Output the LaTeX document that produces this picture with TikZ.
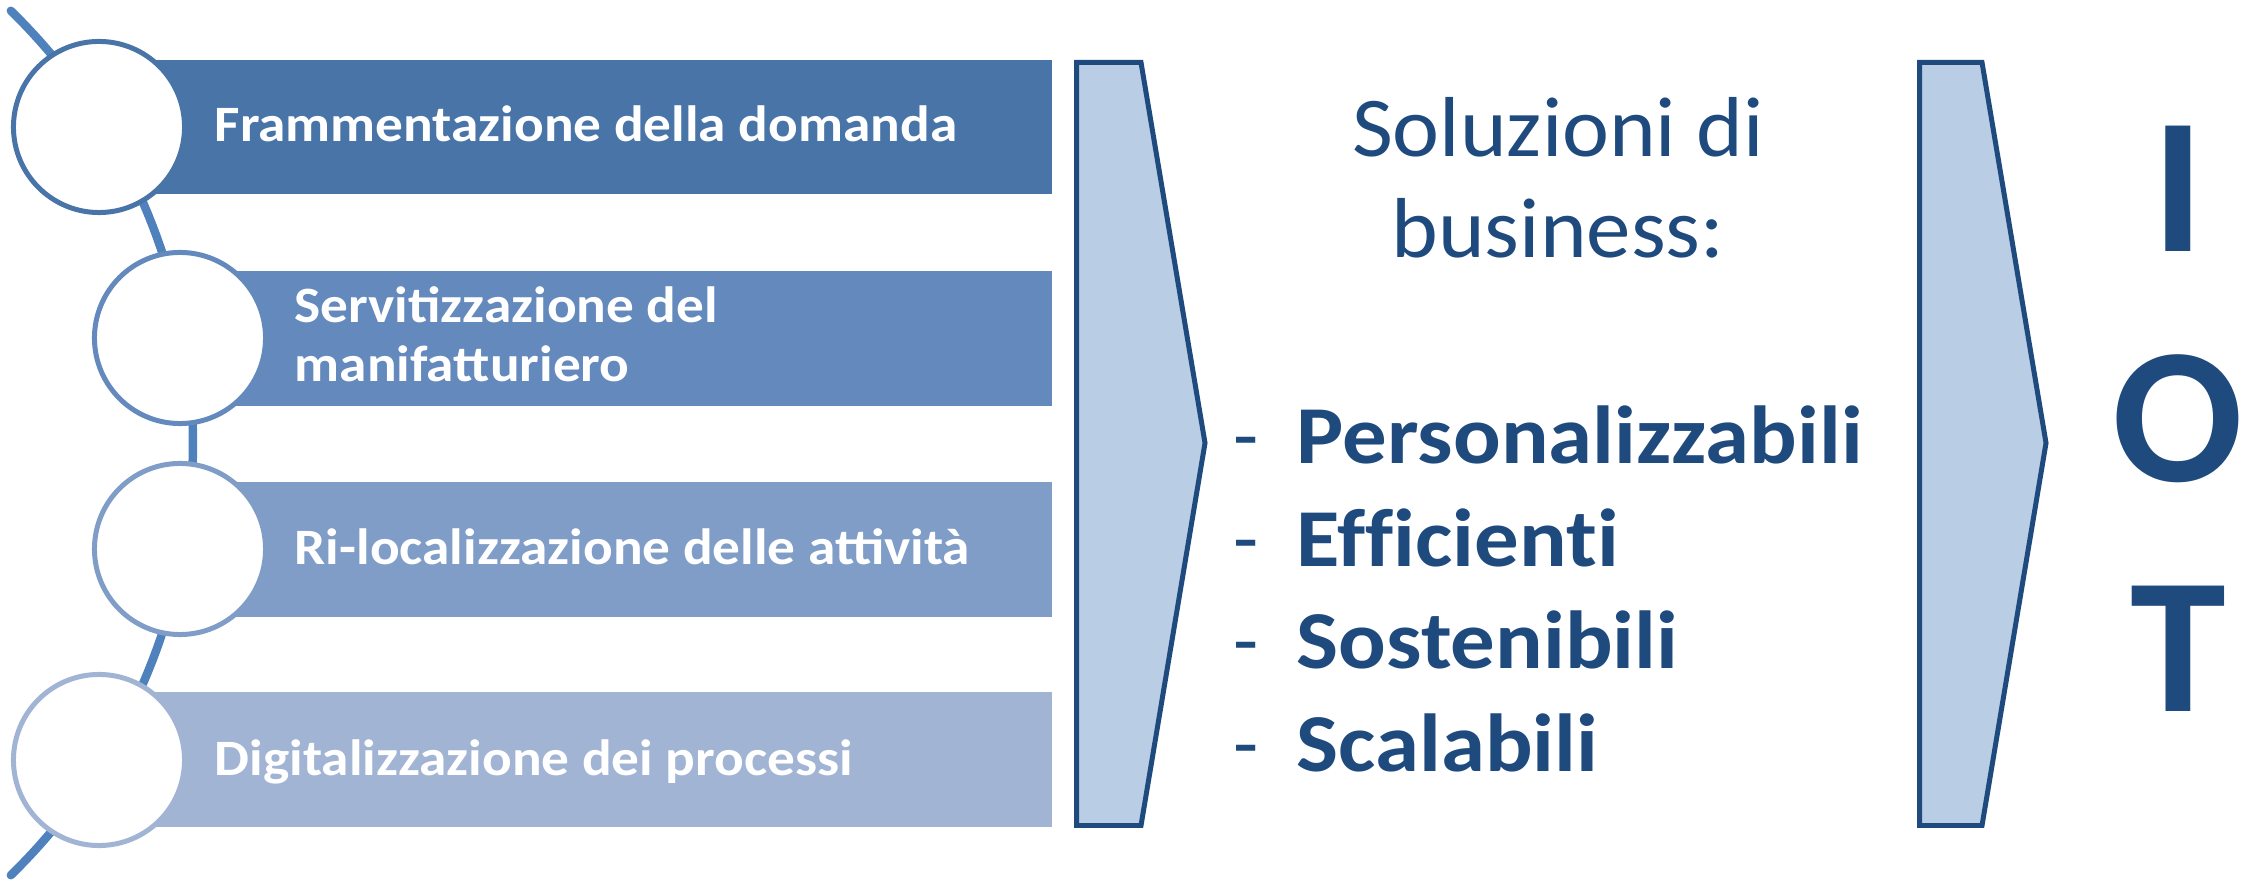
\documentclass[tikz,border=0pt]{standalone}
\usepackage{fontspec}
\setmainfont{Carlito}
\newfontfamily\bandfont[FakeStretch=1.085]{Carlito}
\newfontfamily\itemfont[FakeStretch=1.08, Ligatures=NoCommon]{Carlito}
\newfontfamily\headfont[FakeStretch=1.045]{Carlito}
\definecolor{barA}{HTML}{4874A8}
\definecolor{barB}{HTML}{6389BD}
\definecolor{barC}{HTML}{809DC8}
\definecolor{barD}{HTML}{A1B4D4}
\definecolor{spinecol}{HTML}{4F81BD}
\definecolor{navy}{HTML}{1F4A7E}
\definecolor{chevfill}{HTML}{B9CDE4}
\begin{document}
\begin{tikzpicture}[x=0.01cm,y=-0.01cm,
  ring/.style={circle, draw=#1, fill=white, line width=1.42pt,
    minimum size=1.71cm, inner sep=0pt},
  bartext/.style={anchor=base west, inner sep=0pt, text=white,
    font=\bandfont\fontsize{14.5pt}{16.8pt}\selectfont\bfseries},
  chev/.style={draw=navy, fill=chevfill, line width=1.42pt, line join=miter},
  spine/.style={draw=spinecol, line width=2.4pt, line cap=round},
  headtext/.style={anchor=base, inner sep=0pt, text=navy,
    font=\headfont\fontsize{24.2pt}{29pt}\selectfont},
  dashtext/.style={anchor=base west, inner sep=0pt, text=navy,
    font=\fontsize{23.4pt}{28pt}\selectfont},
  itemtext/.style={anchor=base west, inner sep=0pt, text=navy,
    font=\itemfont\fontsize{23.4pt}{28pt}\selectfont\bfseries},
  bigletter/.style={anchor=base, inner sep=0pt, text=navy,
    font=\fontsize{55pt}{60pt}\selectfont\bfseries},
]
\useasboundingbox (0,0) rectangle (2249,880);

% curved backbone behind the circles
\draw[spine] plot[domain=-45.7:45.7, samples=90]
  ({-411+604*cos(\x)},{443+604*sin(\x)});

% coloured bands
\fill[barA] (99,60)   rectangle (1052,194);
\fill[barB] (180,271) rectangle (1052,406);
\fill[barC] (180,482) rectangle (1052,617);
\fill[barD] (99,692)  rectangle (1052,827);

% circles on the backbone
\node[ring=barA] (c1) at (99,127) {};
\node[ring=barB] (c2) at (180,338) {};
\node[ring=barC] (c3) at (180,549) {};
\node[ring=barD] (c4) at (99,760) {};

% band labels
\node[bartext] (t1)  at (214,142) {Frammentazione della domanda};
\node[bartext] (t2a) at (294,323) {Servitizzazione del};
\node[bartext] (t2b) at (294,382) {manifatturiero};
\node[bartext] (t3)  at (294,565) {Ri-localizzazione delle attività};
\node[bartext] (t4)  at (214,775) {Digitalizzazione dei processi};

% chevrons
\draw[chev] (1076.5,62.5) -- (1141,62.5) -- (1205,443) -- (1141,825.5)
  -- (1076.5,825.5) -- cycle;
\draw[chev] (1919.5,62.5) -- (1982,62.5) -- (2046,443) -- (1982,825.5)
  -- (1919.5,825.5) -- cycle;

% central heading
\node[headtext] (h1) at (1558,157) {Soluzioni di};
\node[headtext] (h2) at (1558,258) {business:};

% list of qualities
\node[dashtext] (d1) at (1233,464) {-};
\node[dashtext] (d2) at (1233,567) {-};
\node[dashtext] (d3) at (1233,669) {-};
\node[dashtext] (d4) at (1233,772) {-};
\node[itemtext] (i1) at (1296,464) {Personalizzabili};
\node[itemtext] (i2) at (1296,567) {Efficienti};
\node[itemtext] (i3) at (1296,669) {Sostenibili};
\node[itemtext] (i4) at (1296,772) {Scalabili};

% IOT column
\node[bigletter] (lI) at (2178,252) {I};
\node[bigletter] (lO) at (2178,482) {O};
\node[bigletter] (lT) at (2178,712) {T};
\end{tikzpicture}
\end{document}
